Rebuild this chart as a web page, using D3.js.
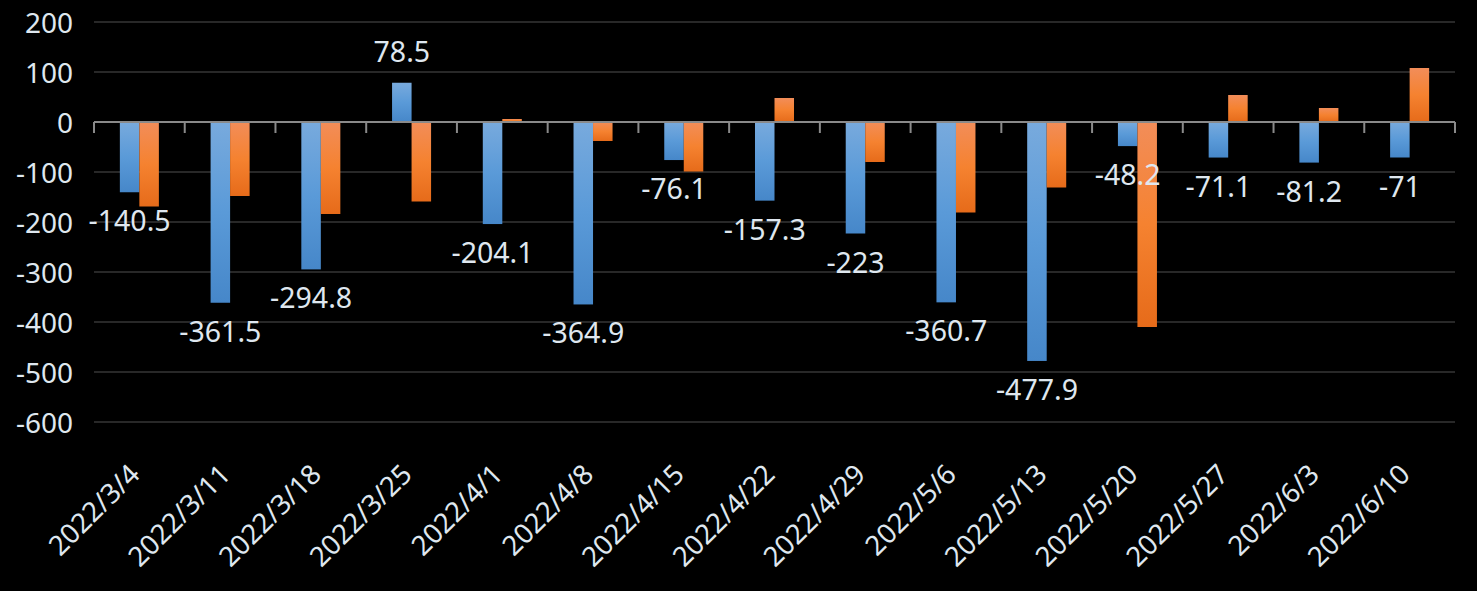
<!DOCTYPE html>
<html>
<head>
<meta charset="utf-8">
<script src="https://cdn.jsdelivr.net/npm/d3@7"></script>
<style>
  html, body { margin: 0; padding: 0; background: #000; }
  svg { display: block; }
  text { font-family: "Noto Sans", "Open Sans", sans-serif; fill: #dfe7ef; }
</style>
</head>
<body>
<svg id="chart" width="1477" height="591"></svg>
<script>
const categories = ["2022/3/4","2022/3/11","2022/3/18","2022/3/25","2022/4/1","2022/4/8","2022/4/15","2022/4/22","2022/4/29","2022/5/6","2022/5/13","2022/5/20","2022/5/27","2022/6/3","2022/6/10"];
const seriesBlue = [-140.5,-361.5,-294.8,78.5,-204.1,-364.9,-76.1,-157.3,-223,-360.7,-477.9,-48.2,-71.1,-81.2,-71];
const seriesOrange = [-169,-148,-184,-159,6,-38,-99,48,-80,-181,-131,-410,54,28,108];
const yTicks = [200,100,0,-100,-200,-300,-400,-500,-600];

const svg = d3.select("#chart");
const W = 1477, H = 591;
const m = {left: 94, right: 22, top: 22, bottom: 169};

const x = d3.scaleBand().domain(categories).range([m.left, W - m.right]).paddingInner(0).paddingOuter(0);
const y = d3.scaleLinear().domain([-600, 200]).range([H - m.bottom, m.top]);
const groupW = x.bandwidth() * 0.43;
const x1 = d3.scaleBand().domain(["blue","orange"]).range([0, groupW]).padding(0);

const defs = svg.append("defs");
function grad(id, stops) {
  const g = defs.append("linearGradient").attr("id", id).attr("x1", 0).attr("y1", 0).attr("x2", 0).attr("y2", 1);
  stops.forEach(s => g.append("stop").attr("offset", s[0]).attr("stop-color", s[1]));
}
grad("gBlue", [[0, "#78aadd"], [0.5, "#5a9ad8"], [1, "#4687c9"]]);
grad("gOrange", [[0, "#f28d59"], [0.5, "#f58230"], [1, "#e66b1a"]]);

// gridlines
svg.append("g")
  .selectAll("line").data(yTicks.filter(d => d !== 0)).join("line")
  .attr("x1", m.left).attr("x2", W - m.right)
  .attr("y1", d => y(d)).attr("y2", d => y(d))
  .attr("stroke", "#282828").attr("stroke-width", 2);

// y axis labels
const yAxis = d3.axisLeft(y).tickValues(yTicks).tickSize(0).tickPadding(21).tickFormat(d => String(d));
const ya = svg.append("g").attr("transform", `translate(${m.left},0)`).call(yAxis);
ya.select(".domain").remove();
ya.selectAll("text").attr("font-size", 28).attr("fill", "#dfe7ef").attr("font-family", "Noto Sans, sans-serif").attr("dy", "0.36em");

const groups = ["blue", "orange"];
const seriesMap = {blue: seriesBlue, orange: seriesOrange};

const bars = svg.append("g");
groups.forEach(s => {
  bars.selectAll("rect." + s).data(categories).join("rect")
    .attr("class", s)
    .attr("x", d => x(d) + (x.bandwidth() - groupW) / 2 + x1(s))
    .attr("width", x1.bandwidth())
    .attr("y", (d, i) => y(Math.max(0, seriesMap[s][i])))
    .attr("height", (d, i) => Math.abs(y(seriesMap[s][i]) - y(0)))
    .attr("fill", s === "blue" ? "url(#gBlue)" : "url(#gOrange)");
});

// zero axis line with tick marks
svg.append("line")
  .attr("x1", m.left).attr("x2", W - m.right)
  .attr("y1", y(0)).attr("y2", y(0))
  .attr("stroke", "#8a8a8a").attr("stroke-width", 2);
const tickPos = categories.map(c => x(c)).concat([x(categories[categories.length - 1]) + x.bandwidth()]);
svg.append("g").selectAll("line").data(tickPos).join("line")
  .attr("x1", d => d).attr("x2", d => d)
  .attr("y1", y(0)).attr("y2", y(0) + 11)
  .attr("stroke", "#8a8a8a").attr("stroke-width", 2);

// data labels (blue series)
svg.append("g").selectAll("text").data(categories).join("text")
  .attr("x", d => x(d) + (x.bandwidth() - groupW) / 2 + x1("blue") + x1.bandwidth() / 2)
  .attr("y", (d, i) => seriesBlue[i] >= 0 ? y(seriesBlue[i]) - 21 : y(seriesBlue[i]) + 39)
  .attr("text-anchor", "middle")
  .attr("font-size", 28.5)
  .text((d, i) => String(seriesBlue[i]));

// x category labels
svg.append("g").selectAll("text").data(categories).join("text")
  .attr("transform", d => `translate(${x(d) + x.bandwidth() / 2 + 2},${476}) rotate(-45)`)
  .attr("text-anchor", "end")
  .attr("font-size", 27.5)
  .text(d => d);
</script>
</body>
</html>
